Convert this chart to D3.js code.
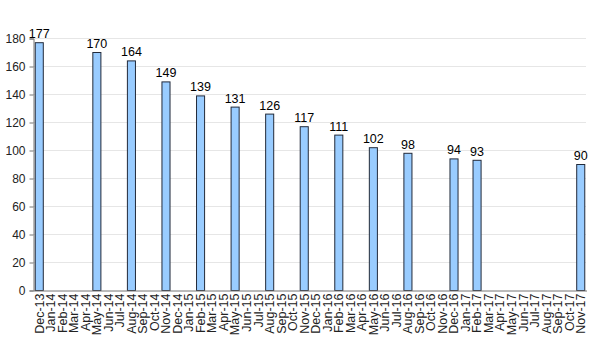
<!DOCTYPE html>
<html><head><meta charset="utf-8">
<script src="https://cdn.jsdelivr.net/npm/d3@7"></script>
<style>body{margin:0;background:#fff}svg{display:block}text{font-family:"Liberation Sans",Arial,sans-serif}</style>
</head><body>
<svg id="c" width="600" height="361"></svg>
<script>
const months = ["Dec-13","Jan-14","Feb-14","Mar-14","Apr-14","May-14","Jun-14","Jul-14","Aug-14","Sep-14","Oct-14","Nov-14","Dec-14","Jan-15","Feb-15","Mar-15","Apr-15","May-15","Jun-15","Jul-15","Aug-15","Sep-15","Oct-15","Nov-15","Dec-15","Jan-16","Feb-16","Mar-16","Apr-16","May-16","Jun-16","Jul-16","Aug-16","Sep-16","Oct-16","Nov-16","Dec-16","Jan-17","Feb-17","Mar-17","Apr-17","May-17","Jun-17","Jul-17","Aug-17","Sep-17","Oct-17","Nov-17"];
const barMonths = ["Dec-13","May-14","Aug-14","Nov-14","Feb-15","May-15","Aug-15","Nov-15","Feb-16","May-16","Aug-16","Dec-16","Feb-17","Nov-17"];
const barValues = [177,170,164,149,139,131,126,117,111,102,98,94,93,90];
const yTicks = [0,20,40,60,80,100,120,140,160,180];

const svg = d3.select("#c");
const L = 33, R = 586, T = 38, B = 290;
const x = d3.scaleBand().domain(months).range([L, R]).paddingInner(0.3).paddingOuter(0.15);
const y = d3.scaleLinear().domain([0,180]).range([B, T]);

svg.append("g").selectAll("line").data(yTicks.filter(d=>d>0)).join("line")
  .attr("x1", L).attr("x2", R).attr("y1", d=>Math.round(y(d))+0.5).attr("y2", d=>Math.round(y(d))+0.5)
  .attr("stroke", "#e6e6e6").attr("stroke-width", 1);

const data = barMonths.map((m,i)=>({m, v: barValues[i]}));
svg.append("g").selectAll("rect").data(data).join("rect")
  .attr("x", d=>x(d.m)+0.5).attr("y", d=>y(d.v)+0.5)
  .attr("width", x.bandwidth()).attr("height", d=>B - y(d.v))
  .attr("fill", "#99ccff").attr("stroke", "#222a3a").attr("stroke-width", 1);

svg.append("g").selectAll("text").data(data).join("text")
  .attr("x", d=>x(d.m)+x.bandwidth()/2+0.5).attr("y", d=>y(d.v)-4)
  .attr("text-anchor","middle").attr("font-size", 12.5).attr("fill","#000")
  .text(d=>d.v);

const yAxis = d3.axisLeft(y).tickValues(yTicks).tickSize(4).tickPadding(4);
const gy = svg.append("g").attr("transform", `translate(${L+0.5},0.5)`).call(yAxis);
gy.selectAll("path,line").attr("stroke","#777");
gy.selectAll("text").attr("font-size", 12).attr("fill","#222").attr("font-family",'"Liberation Sans",Arial,sans-serif');

const xAxis = d3.axisBottom(x).tickSize(0).tickPadding(3);
const gx = svg.append("g").attr("transform", `translate(0.5,${B+0.5})`).call(xAxis);
gx.select("path").attr("stroke","#777");
gx.selectAll("text").attr("font-size", 12.5).attr("fill","#222").attr("font-family",'"Liberation Sans",Arial,sans-serif')
  .attr("text-anchor","end").attr("dx","-3").attr("dy","0.35em")
  .attr("x", 0).attr("y", 0)
  .attr("transform", "rotate(-90)");
</script>
</body></html>
